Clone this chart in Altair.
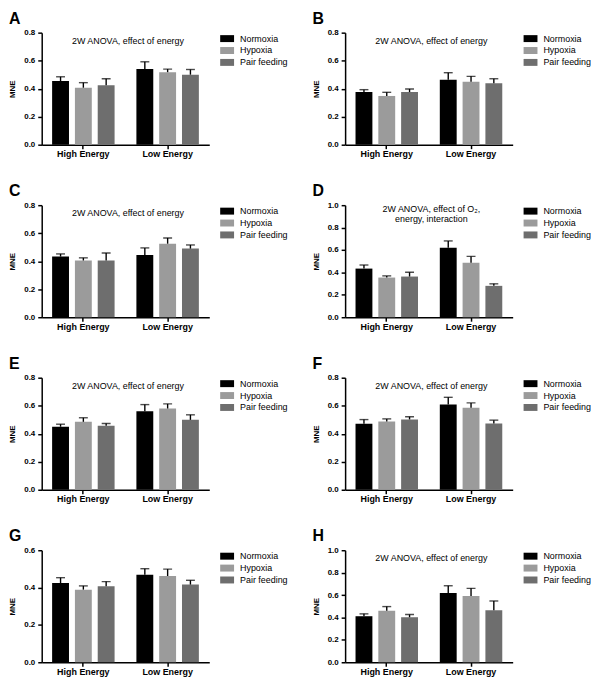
import altair as alt
import pandas as pd

groups = ["High Energy", "Low Energy"]
conditions = ["Normoxia", "Hypoxia", "Pair feeding"]
bar_colors = ["#000000", "#9b9b9b", "#6e6e6e"]

# order: High Energy (Normoxia, Hypoxia, Pair feeding), Low Energy (Normoxia, Hypoxia, Pair feeding)
A_mean = [0.454, 0.407, 0.424, 0.540, 0.518, 0.500]
A_sem = [0.031, 0.036, 0.047, 0.052, 0.022, 0.037]
B_mean = [0.376, 0.348, 0.376, 0.464, 0.450, 0.438]
B_sem = [0.017, 0.026, 0.022, 0.050, 0.038, 0.033]
C_mean = [0.433, 0.405, 0.405, 0.445, 0.525, 0.490]
C_sem = [0.019, 0.019, 0.054, 0.050, 0.041, 0.026]
D_mean = [0.434, 0.354, 0.363, 0.619, 0.487, 0.280]
D_sem = [0.032, 0.015, 0.038, 0.062, 0.056, 0.018]
E_mean = [0.450, 0.485, 0.457, 0.561, 0.580, 0.499]
E_sem = [0.018, 0.029, 0.016, 0.047, 0.033, 0.036]
F_mean = [0.471, 0.488, 0.502, 0.608, 0.585, 0.473]
F_sem = [0.030, 0.018, 0.019, 0.052, 0.035, 0.024]
G_mean = [0.424, 0.389, 0.407, 0.469, 0.462, 0.416]
G_sem = [0.029, 0.020, 0.025, 0.032, 0.037, 0.023]
H_mean = [0.411, 0.459, 0.402, 0.618, 0.592, 0.464]
H_sem = [0.021, 0.038, 0.024, 0.065, 0.068, 0.083]

ticks_06 = [0.0, 0.2, 0.4, 0.6]
ticks_08 = [0.0, 0.2, 0.4, 0.6, 0.8]
ticks_10 = [0.0, 0.2, 0.4, 0.6, 0.8, 1.0]

title_energy = ["2W ANOVA, effect of energy"]
title_d = ["2W ANOVA, effect of O\u2082,", "energy, interaction"]

FONT = "Liberation Sans"
W, H = 169, 113


def panel(letter, means, sems, ticks, title_lines):
    rows = []
    for i, g in enumerate(groups):
        for j, c in enumerate(conditions):
            k = i * 3 + j
            rows.append({"group": g, "cond": c, "mean": means[k],
                         "upper": round(means[k] + sems[k], 4)})
    df = pd.DataFrame(rows)

    base = alt.Chart(df).encode(
        x=alt.X("group:N", sort=groups,
                scale=alt.Scale(paddingInner=0.2588, paddingOuter=0.1235),
                axis=alt.Axis(title=None, labelAngle=0, labelFont=FONT,
                              labelFontWeight="bold", labelFontSize=9,
                              labelColor="black", tickSize=4, tickWidth=1.5,
                              tickColor="black", domainColor="black",
                              domainWidth=1.5, labelPadding=1, grid=False)),
        xOffset=alt.XOffset("cond:N", sort=conditions,
                            scale=alt.Scale(paddingInner=0.26, paddingOuter=0)),
    )
    yscale = alt.Scale(domain=[ticks[0], ticks[-1]], nice=False)
    yaxis = alt.Axis(title="MNE", values=ticks, format=".1f", labelOverlap=False,
                     labelFont=FONT, labelFontWeight="bold",
                     labelFontSize=8, labelColor="black",
                     titleFont=FONT, titleFontSize=8,
                     titleFontWeight="bold", titleColor="black",
                     titlePadding=7, tickSize=4, tickWidth=1.5,
                     tickColor="black", domainColor="black",
                     domainWidth=1.5, labelPadding=3, grid=False)
    bars = base.mark_bar().encode(
        y=alt.Y("mean:Q", scale=yscale, axis=yaxis),
        color=alt.Color("cond:N", sort=conditions,
                        scale=alt.Scale(domain=conditions, range=bar_colors),
                        legend=alt.Legend(title=None, orient="none",
                                          legendX=180, legendY=-1,
                                          symbolType="M-1,-0.5H1V0.5H-1Z",
                                          symbolSize=196, symbolStrokeWidth=0,
                                          labelFont=FONT, labelFontSize=9,
                                          labelColor="black", labelOffset=6,
                                          rowPadding=0, padding=0)),
    )
    err = base.mark_rule(color="black", strokeWidth=1.4).encode(
        y=alt.Y("mean:Q", scale=yscale, axis=yaxis), y2="upper:Q")
    cap = base.mark_tick(color="black", thickness=1.4, size=9).encode(
        y=alt.Y("upper:Q", scale=yscale, axis=yaxis))

    layers = [bars, err, cap]

    letter_df = pd.DataFrame({"t": [letter]})
    layers.append(alt.Chart(letter_df).mark_text(
        font=FONT, fontSize=16, fontWeight="bold", align="left",
        baseline="top", color="black").encode(
        text="t:N", x=alt.value(-33), y=alt.value(-22)))

    n = len(title_lines)
    for li, line in enumerate(title_lines):
        ypos = 11 if n == 1 else 7 + li * 10
        tdf = pd.DataFrame({"t": [line]})
        layers.append(alt.Chart(tdf).mark_text(
            font=FONT, fontSize=9, align="center", baseline="alphabetic",
            color="black").encode(text="t:N", x=alt.value(87), y=alt.value(ypos)))

    return alt.layer(*layers).properties(width=W, height=H)


panels = [
    panel("A", A_mean, A_sem, ticks_08, title_energy),
    panel("B", B_mean, B_sem, ticks_08, title_energy),
    panel("C", C_mean, C_sem, ticks_08, title_energy),
    panel("D", D_mean, D_sem, ticks_10, title_d),
    panel("E", E_mean, E_sem, ticks_08, title_energy),
    panel("F", F_mean, F_sem, ticks_08, title_energy),
    panel("G", G_mean, G_sem, ticks_06, []),
    panel("H", H_mean, H_sem, ticks_10, title_energy),
]

chart = alt.concat(*panels, columns=2, spacing={"row": 61, "column": 137},
                   bounds="flush").resolve_scale(
    x="independent", y="independent").resolve_legend(
    color="independent").properties(padding=0, background="white").configure_view(
    stroke=None)

chart.save("out.html", embed_options={"renderer": "svg", "actions": False})
